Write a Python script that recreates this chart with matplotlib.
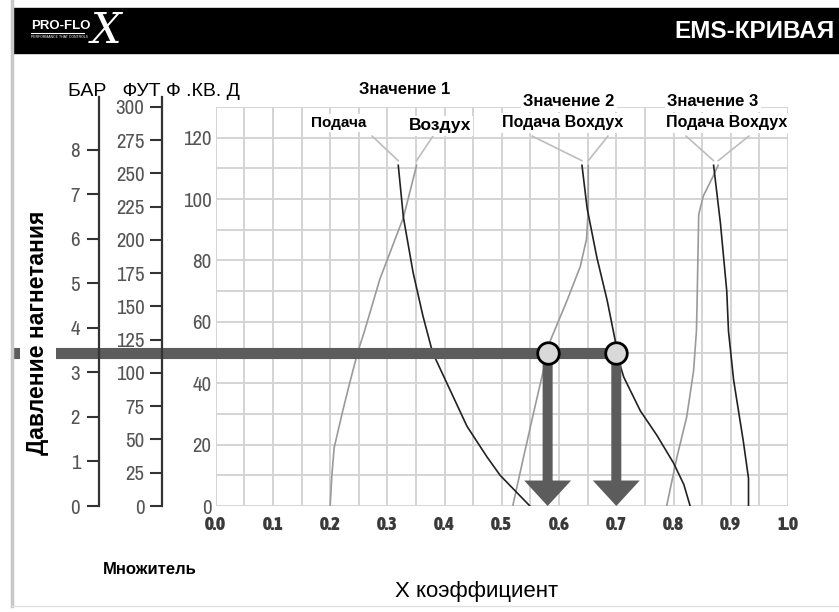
import numpy as np
import matplotlib
matplotlib.use("Agg")
import matplotlib.pyplot as plt
from matplotlib import font_manager
from matplotlib.font_manager import FontProperties
from matplotlib.lines import Line2D
from matplotlib.patches import Rectangle

plt.rcParams['font.family'] = ['Liberation Sans', 'DejaVu Sans']

# curves: discharge pressure (psi) -> X factor
feed1_psi = [0, 10, 16, 26, 40, 50, 62, 76, 94, 111]
feed1_x = [0.549, 0.497, 0.474, 0.439, 0.404, 0.379, 0.362, 0.345, 0.328, 0.319]
air1_psi = [0, 10, 19, 31, 40, 50, 57, 74, 94, 111]
air1_x = [0.200, 0.203, 0.207, 0.222, 0.234, 0.248, 0.260, 0.287, 0.328, 0.351]

feed2_psi = [0, 7, 14, 23, 31, 42, 50, 54, 67, 81, 97, 111]
feed2_x = [0.829, 0.818, 0.800, 0.771, 0.742, 0.713, 0.700, 0.698, 0.684, 0.666, 0.649, 0.640]
air2_psi = [0, 16, 30, 47, 54, 67, 78, 87, 97, 111]
air2_x = [0.519, 0.538, 0.555, 0.576, 0.585, 0.614, 0.637, 0.648, 0.651, 0.651]

feed3_psi = [0, 9, 21, 41, 57, 70, 92, 111]
feed3_x = [0.931, 0.931, 0.922, 0.905, 0.896, 0.893, 0.882, 0.870]
air3_psi = [0, 16, 29, 44, 57, 65, 95, 101, 107, 111]
air3_x = [0.788, 0.806, 0.823, 0.835, 0.840, 0.841, 0.844, 0.852, 0.868, 0.878]

x_ticks = [0.0, 0.1, 0.2, 0.3, 0.4, 0.5, 0.6, 0.7, 0.8, 0.9, 1.0]
psi_ticks = [0, 20, 40, 60, 80, 100, 120]
bar_ticks = [0, 1, 2, 3, 4, 5, 6, 7, 8]
ft_ticks = [0, 25, 50, 75, 100, 125, 150, 175, 200, 225, 250, 275, 300]

operating_psi = 50
operating_x = [0.58, 0.70]

PSI_PER_BAR = 14.5
PSI_PER_FT = 0.4335


# narrow face for the scale numbers, if one is installed
def narrow_font(bold, size):
    found = []
    for f in font_manager.fontManager.ttflist:
        nm = f.name + ' ' + str(f.stretch)
        if ('Narrow' in nm or 'ondensed' in nm) and f.style == 'normal':
            w = f.weight if isinstance(f.weight, int) else (700 if 'bold' in str(f.weight) else 400)
            if (w >= 600) == bold:
                found.append(f)
    found.sort(key=lambda f: (0 if 'Liberation' in f.name else 1, f.name))
    if found:
        return FontProperties(fname=found[0].fname, size=size)
    return FontProperties(family='Liberation Sans', weight='bold' if bold else 'normal',
                          size=size)


num_font = narrow_font(False, 15)
num_bold = narrow_font(True, 13.5)

W, H = 839, 612
fig = plt.figure(figsize=(W / 100, H / 100), dpi=100)


def fx(p):
    return p / W


def fy(p):
    return 1 - p / H


# frame and header
fig.add_artist(Line2D([fx(12), fx(12)], [fy(0), fy(606)], color='#c8c8c8', lw=2.5))
fig.add_artist(Line2D([fx(12), fx(839)], [fy(606), fy(606)], color='#e2e2e2', lw=1))
fig.add_artist(Rectangle((fx(13), fy(53)), 1 - fx(13), 45 / H,
                         transform=fig.transFigure, color='black', zorder=1))
fig.text(fx(835), fy(32), 'EMS-КРИВАЯ', color='white', fontsize=17.5,
         weight='bold', ha='right', va='center')
fig.text(fx(31), fy(26), 'PRO-FLO', color='white', fontsize=9.5, weight='bold',
         ha='left', va='center')
fig.add_artist(Line2D([fx(31), fx(84)], [fy(33), fy(33)], color='white', lw=0.8))
fig.text(fx(31), fy(37.5), 'PERFORMANCE THAT CONTROLS', color='white', fontsize=2.5,
         ha='left', va='center')
fig.text(fx(106), fy(31), 'X', color='white', fontsize=31, family='DejaVu Serif',
         style='italic', ha='center', va='center')

# main chart
bottom_px, top_px = 506, 107
ax = fig.add_axes([fx(215.7), fy(bottom_px), (788 - 215.7) / W, (bottom_px - top_px) / H])
ax.set_xlim(0, 1.0)
ax.set_ylim(0, 130)
ax.set_xticks(x_ticks)
ax.set_xticklabels([f'{v:.1f}' for v in x_ticks], fontproperties=num_bold,
                   color='#3a3a3a')
ax.set_xticks(np.arange(0, 1.0001, 0.05), minor=True)
ax.set_yticks(psi_ticks)
ax.set_yticklabels([str(v) for v in psi_ticks], fontproperties=num_font,
                   color='#555555')
ax.set_yticks(np.arange(0, 131, 10), minor=True)
ax.tick_params(which='both', length=0)
ax.tick_params(axis='x', pad=7)
ax.tick_params(axis='y', pad=3)
ax.grid(which='both', color='#d4d4d4', lw=1.4)
ax.set_axisbelow(True)
for s in ax.spines.values():
    s.set_visible(False)

for xs, ps in [(air1_x, air1_psi), (air2_x, air2_psi), (air3_x, air3_psi)]:
    ax.plot(xs, ps, color='#9a9a9a', lw=1.2, zorder=3)
for xs, ps in [(feed1_x, feed1_psi), (feed2_x, feed2_psi), (feed3_x, feed3_psi)]:
    ax.plot(xs, ps, color='#222222', lw=1.2, zorder=3)

# operating line and read-off arrows
ax.plot([-0.354, max(operating_x)], [operating_psi, operating_psi], color='#5c5c5c',
        lw=8, solid_capstyle='butt', clip_on=False, zorder=4)
for xv in operating_x:
    ax.arrow(xv, operating_psi, 0, -operating_psi, width=0.0175, head_width=0.082,
             head_length=8.3, length_includes_head=True, color='#5c5c5c', lw=0, zorder=4)
ax.plot(operating_x, [operating_psi] * len(operating_x), 'o', ms=15.5, mfc='#d9d9d9',
        mec='black', mew=2, zorder=5, clip_on=False)

# leader lines from labels to curve tops
leaders = [(372, feed1_x, feed1_psi), (433, air1_x, air1_psi),
           (532, feed2_x, feed2_psi), (608, air2_x, air2_psi),
           (686, feed3_x, feed3_psi), (749, air3_x, air3_psi)]
for px0, xs, ps in leaders:
    ax.annotate('', xy=(xs[-1], ps[-1] + 1.5), xycoords='data',
                xytext=(fx(px0), fy(136)), textcoords='figure fraction',
                arrowprops=dict(arrowstyle='-', color='#bdbdbd', lw=1.2,
                                shrinkA=0, shrinkB=0), zorder=2)

# stacked scales: bar and feet of water
span_px = bottom_px - 97
span_psi = span_px * 130 / (bottom_px - top_px)
for xpix, ticks, factor, lpad in [(99, bar_ticks, PSI_PER_BAR, 5),
                                  (162, ft_ticks, PSI_PER_FT, 4)]:
    sa = fig.add_axes([fx(xpix), fy(bottom_px), 0.0005, span_px / H])
    sa.set_ylim(0, span_psi / factor)
    sa.set_xticks([])
    sa.set_yticks(ticks)
    sa.set_yticklabels([str(t) for t in ticks], fontproperties=num_font,
                       color='#555555')
    sa.tick_params(axis='y', length=8.6, width=1.5, color='#333333', pad=lpad)
    sa.patch.set_visible(False)
    for k, s in sa.spines.items():
        s.set_visible(k == 'left')
    sa.spines['left'].set_linewidth(1.6)
    sa.spines['left'].set_color('#333333')

# texts
box = dict(facecolor='white', edgecolor='none', pad=1.5)
fig.text(fx(68), fy(91), 'БАР   ФУТ Ф .КВ. Д', fontsize=14, ha='left', va='center')
fig.text(fx(405), fy(90), 'Значение 1', fontsize=12, weight='bold', ha='center',
         va='center', bbox=box)
fig.text(fx(569), fy(102), 'Значение 2', fontsize=12, weight='bold', ha='center',
         va='center', bbox=box)
fig.text(fx(713), fy(102), 'Значение 3', fontsize=12, weight='bold', ha='center',
         va='center', bbox=box)
fig.text(fx(339), fy(123), 'Подача', fontsize=11, weight='bold',
         ha='center', va='center', bbox=box)
fig.text(fx(440), fy(126), 'Воздух', fontsize=12.5, weight='bold', ha='center',
         va='center', bbox=box)
fig.text(fx(563), fy(123), 'Подача Воxдух', fontsize=11.5, weight='bold',
         ha='center', va='center', bbox=box)
fig.text(fx(727), fy(123), 'Подача Воxдух', fontsize=11.5, weight='bold',
         ha='center', va='center', bbox=box)
fig.text(fx(38), fy(333), 'Давление нагнетания', fontsize=16.5, weight='bold',
         rotation=90, ha='center', va='center',
         bbox=dict(facecolor='white', edgecolor='none', pad=5))
fig.text(fx(150), fy(570), 'Множитель', fontsize=12, weight='bold', ha='center',
         va='center')
fig.text(fx(477), fy(592), 'X коэффициент', fontsize=16, ha='center', va='center')

fig.savefig('out.png', dpi=100)
